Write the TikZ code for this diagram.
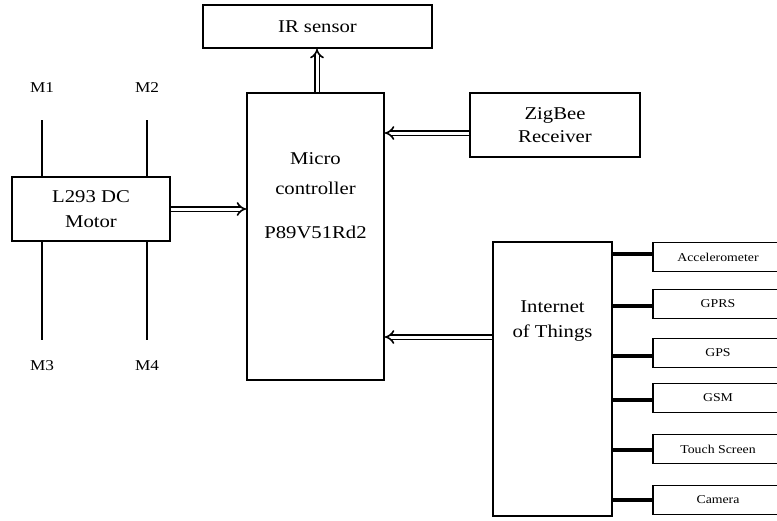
\documentclass[tikz,border=0pt]{standalone}
\usepackage{fontspec}
\setmainfont{Liberation Serif}[FakeStretch=1.15]
\usetikzlibrary{arrows.meta, positioning}

\begin{document}
\begin{tikzpicture}[x=1pt, y=-1pt,
  box/.style={draw, line width=1.8pt, inner sep=0pt, align=center,
    font=\fontsize{18}{22}\selectfont},
  smallbox/.style={draw, line width=1.8pt, inner sep=0pt,
    minimum width=130pt, minimum height=29pt, font=\fontsize{12}{14}\selectfont},
  dbl/.style={double, double distance=3pt, line width=1.6pt, -{Implies}},
  wire/.style={line width=2pt},
  link/.style={line width=3.2pt},
  mlabel/.style={font=\fontsize{15}{18}\selectfont}]

\clip (0,0) rectangle (777,520);

% Micro controller
\node[box, minimum width=137pt, minimum height=287pt] (mc) at (315.5,236.5) {};
\node[font=\fontsize{18}{22}\selectfont, align=center] (mctxt) at (315.5,196)
  {Micro\\[8pt]controller\\[22pt]P89V51Rd2};

% IR sensor
\node[box, minimum width=229pt, minimum height=43pt] (ir) at (317.5,26.5) {IR sensor};
\draw[dbl] (mc.north -| 317,0) -- (ir.south -| 317,0);

% ZigBee receiver
\node[box, minimum width=170pt, minimum height=64pt] (zig) at (555,125)
  {ZigBee\\[1pt]Receiver};
\draw[dbl] (zig.west |- 0,133) -- (mc.east |- 0,133);

% Motor driver
\node[box, minimum width=158pt, minimum height=64pt] (drv) at (91,209)
  {L293 DC\\[3pt]Motor};
\draw[dbl] (drv.east) -- (mc.west |- drv.east);

% motors
\coordinate (m1end) at (42,120);
\coordinate (m2end) at (147,120);
\coordinate (m3end) at (42,340);
\coordinate (m4end) at (147,340);
\node[mlabel] (m1) at (42,88) {M1};
\node[mlabel] (m2) at (147,88) {M2};
\node[mlabel] (m3) at (42,366) {M3};
\node[mlabel] (m4) at (147,366) {M4};
\draw[wire] (drv.north -| m1end) -- (m1end);
\draw[wire] (drv.north -| m2end) -- (m2end);
\draw[wire] (drv.south -| m3end) -- (m3end);
\draw[wire] (drv.south -| m4end) -- (m4end);

% Internet of Things
\node[box, minimum width=119pt, minimum height=274pt] (iot) at (552.5,379) {};
\node[font=\fontsize{18}{22}\selectfont, align=center] (iottxt) at (552.5,321)
  {Internet\\[3pt]of Things};
\draw[dbl] (iot.west |- 0,337) -- (mc.east |- 0,337);

% modules on the IoT side
\foreach \nm/\yc/\ln/\txt in {acc/257/254/Accelerometer, gprs/304/306/GPRS,
    gps/353/356/GPS, gsm/398/400/GSM, touch/449/450/Touch Screen,
    cam/500/500/Camera} {
  \node[smallbox] (\nm) at (718,\yc) {\txt};
  \draw[link] (iot.east |- 0,\ln) -- (\nm.west |- 0,\ln);
}

\end{tikzpicture}
\end{document}
